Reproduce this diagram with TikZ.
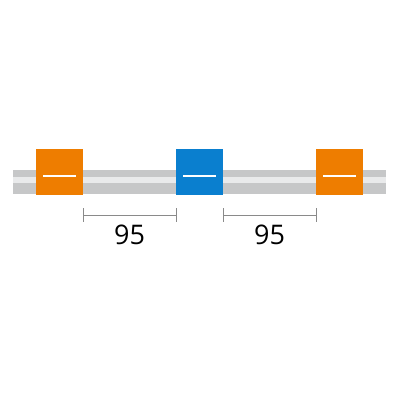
\documentclass[tikz,border=0pt]{standalone}
\usepackage{fontspec}
\setmainfont{Open Sans}
\definecolor{bargray}{HTML}{C6C7C8}
\definecolor{barlight}{HTML}{E9EAEB}
\definecolor{orng}{HTML}{EE7D00}
\definecolor{blu}{HTML}{0A7FCF}
\definecolor{dimgray}{HTML}{8A8A8A}
\begin{document}
\begin{tikzpicture}[x=1pt,y=-1pt,
  marker/.style={minimum width=47pt,minimum height=46pt,inner sep=0pt,outer sep=0pt,draw=none},
  dimline/.style={draw=dimgray,line width=1pt},
  dimlabel/.style={font=\fontsize{27}{30}\selectfont,text=black}]
\useasboundingbox (0,0) rectangle (400,400);
\fill[white] (0,0) rectangle (400,400);
% bar
\fill[bargray] (13,170) rectangle (386,194);
\fill[barlight] (13,176.5) rectangle (386,182.5);
% markers
\node[marker,fill=orng] (m1) at (59.5,172) {};
\node[marker,fill=blu] (m2) at (199.5,172) {};
\node[marker,fill=orng] (m3) at (339.5,172) {};
\foreach \m in {m1,m2,m3}{
  \draw[white,line width=2pt] ([xshift=-16.5pt,yshift=-4pt]\m.center) -- ([xshift=16.5pt,yshift=-4pt]\m.center);
}
% dimensions
\coordinate (a1) at (83,215);
\coordinate (b1) at (176,215);
\coordinate (a2) at (223,215);
\coordinate (b2) at (316,215);
\draw[dimline] (a1) -- (b1);
\draw[dimline] (a2) -- (b2);
\foreach \c in {a1,b1,a2,b2}{
  \draw[dimline] ([yshift=7pt]\c) -- ([yshift=-7pt]\c);
}
\node[dimlabel] (t1) at (129.5,235) {95};
\node[dimlabel] (t2) at (269.5,235) {95};
\end{tikzpicture}
\end{document}
